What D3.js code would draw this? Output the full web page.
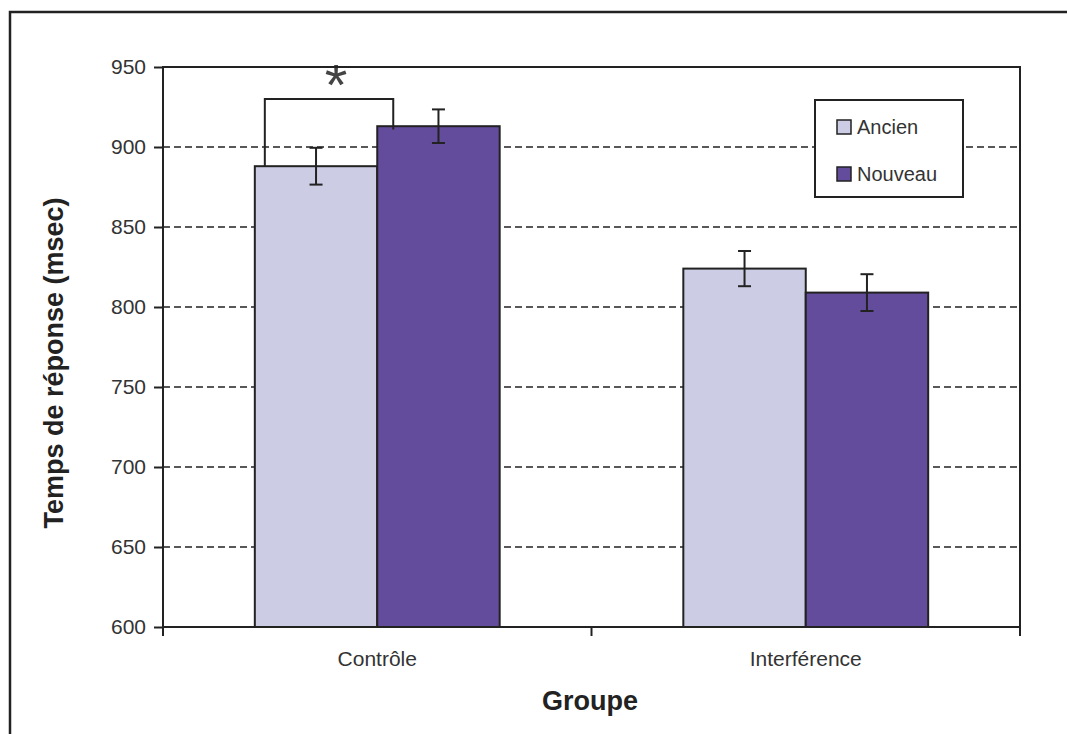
<!DOCTYPE html>
<html>
<head>
<meta charset="utf-8">
<script src="https://cdn.jsdelivr.net/npm/d3@7"></script>
<style>
  html, body { margin: 0; padding: 0; background: #fff; }
  svg { display: block; font-family: "Liberation Sans", Arial, sans-serif; }
</style>
</head>
<body>
<svg id="chart" width="1067" height="734"></svg>
<script>
// Response times by group and item type
const groups = ["Contrôle", "Interférence"];
const series = ["Ancien", "Nouveau"];
const ancienMeans = [888, 824];
const nouveauMeans = [913, 809];
const ancienErrors = [11.5, 11];
const nouveauErrors = [10.5, 11.5];
const yTicks = [600, 650, 700, 750, 800, 850, 900, 950];
const seriesColors = ["#cccce4", "#634c9b"];
// significance bracket over Contrôle (Ancien vs Nouveau)
const bracketLevel = 930;

const rows = groups.map((g, i) => ({
  group: g,
  values: [
    { key: series[0], mean: ancienMeans[i], err: ancienErrors[i] },
    { key: series[1], mean: nouveauMeans[i], err: nouveauErrors[i] }
  ]
}));

const svg = d3.select("#chart");
const ink = "#222";
const plot = { left: 163, right: 1020, top: 67, bottom: 627 };

const y = d3.scaleLinear().domain([600, 950]).range([plot.bottom, plot.top]);
const x0 = d3.scaleBand().domain(groups).range([plot.left, plot.right]).paddingInner(0).paddingOuter(0);
const x1 = d3.scaleBand().domain(series).range([0, x0.bandwidth()]).paddingInner(0).paddingOuter(0.75);
const color = d3.scaleOrdinal().domain(series).range(seriesColors);

// page frame
svg.append("path")
  .attr("d", "M10,745 V12 H1075")
  .attr("fill", "none").attr("stroke", ink).attr("stroke-width", 2.5);

// dashed horizontal gridlines
svg.append("g").selectAll("line")
  .data(yTicks.filter(t => t > 600 && t < 950))
  .join("line")
  .attr("x1", plot.left).attr("x2", plot.right)
  .attr("y1", d => y(d)).attr("y2", d => y(d))
  .attr("stroke", ink).attr("stroke-width", 1.6)
  .attr("stroke-dasharray", "7,4");

// bars
const gGroups = svg.append("g").selectAll("g")
  .data(rows).join("g")
  .attr("transform", d => `translate(${x0(d.group)},0)`);

gGroups.selectAll("rect")
  .data(d => d.values).join("rect")
  .attr("x", d => x1(d.key))
  .attr("y", d => y(d.mean))
  .attr("width", x1.bandwidth())
  .attr("height", d => y(600) - y(d.mean))
  .attr("fill", d => color(d.key))
  .attr("stroke", ink).attr("stroke-width", 2);

// error bars
const capHalf = 6.5;
const eb = gGroups.selectAll("g.err")
  .data(d => d.values).join("g").attr("class", "err")
  .attr("stroke", ink).attr("stroke-width", 2);
eb.append("line")
  .attr("x1", d => x1(d.key) + x1.bandwidth() / 2)
  .attr("x2", d => x1(d.key) + x1.bandwidth() / 2)
  .attr("y1", d => y(d.mean + d.err))
  .attr("y2", d => y(d.mean - d.err));
eb.append("line")
  .attr("x1", d => x1(d.key) + x1.bandwidth() / 2 - capHalf)
  .attr("x2", d => x1(d.key) + x1.bandwidth() / 2 + capHalf)
  .attr("y1", d => y(d.mean + d.err)).attr("y2", d => y(d.mean + d.err));
eb.append("line")
  .attr("x1", d => x1(d.key) + x1.bandwidth() / 2 - capHalf)
  .attr("x2", d => x1(d.key) + x1.bandwidth() / 2 + capHalf)
  .attr("y1", d => y(d.mean - d.err)).attr("y2", d => y(d.mean - d.err));

// significance bracket with asterisk
{
  const gx = x0(groups[0]);
  const bx1 = gx + x1(series[0]) + 10;
  const bx2 = gx + x1(series[1]) + 16;
  svg.append("path")
    .attr("d", `M${bx1},${y(ancienMeans[0])} V${y(bracketLevel)} H${bx2} V${y(nouveauMeans[0] - 2)}`)
    .attr("fill", "none").attr("stroke", ink).attr("stroke-width", 2);
  svg.append("text")
    .attr("x", (bx1 + bx2) / 2 + 7)
    .attr("y", y(bracketLevel) + 6)
    .attr("text-anchor", "middle")
    .attr("font-size", 58)
    .attr("fill", "#444")
    .text("*");
}

// plot border
svg.append("rect")
  .attr("x", plot.left).attr("y", plot.top)
  .attr("width", plot.right - plot.left).attr("height", plot.bottom - plot.top)
  .attr("fill", "none").attr("stroke", ink).attr("stroke-width", 2);

// y axis
const yAxis = svg.append("g")
  .attr("transform", `translate(${plot.left},0)`)
  .call(d3.axisLeft(y).tickValues(yTicks).tickSize(9).tickPadding(8).tickFormat(d3.format("d")));
yAxis.select(".domain").remove();
yAxis.selectAll(".tick line").attr("stroke", ink).attr("stroke-width", 2);
yAxis.selectAll(".tick text")
  .attr("fill", "#333").attr("font-size", 21)
  .attr("font-family", "'Liberation Sans', Arial, sans-serif");

// x axis: ticks at group boundaries, labels at group centres
const boundaries = [plot.left, x0(groups[1]), plot.right];
svg.append("g").selectAll("line")
  .data(boundaries).join("line")
  .attr("x1", d => d).attr("x2", d => d)
  .attr("y1", plot.bottom).attr("y2", plot.bottom + 9)
  .attr("stroke", ink).attr("stroke-width", 2);
svg.append("g").selectAll("text")
  .data(groups).join("text")
  .attr("x", d => x0(d) + x0.bandwidth() / 2)
  .attr("y", plot.bottom + 39)
  .attr("text-anchor", "middle")
  .attr("font-size", 21).attr("fill", "#333")
  .text(d => d);

// axis titles
svg.append("text")
  .attr("x", 590).attr("y", 710)
  .attr("text-anchor", "middle")
  .attr("font-size", 27).attr("font-weight", "bold").attr("fill", ink)
  .text("Groupe");
svg.append("text")
  .attr("transform", "translate(63,363) rotate(-90)")
  .attr("text-anchor", "middle")
  .attr("font-size", 27).attr("font-weight", "bold").attr("fill", ink)
  .text("Temps de réponse (msec)");

// legend
const legend = svg.append("g").attr("transform", "translate(815,100)");
legend.append("rect")
  .attr("width", 148).attr("height", 97)
  .attr("fill", "#fff").attr("stroke", ink).attr("stroke-width", 2);
const li = legend.selectAll("g.item")
  .data(series).join("g").attr("class", "item")
  .attr("transform", (d, i) => `translate(22,${20 + i * 47})`);
li.append("rect")
  .attr("width", 14).attr("height", 14)
  .attr("fill", d => color(d)).attr("stroke", ink).attr("stroke-width", 1.5);
li.append("text")
  .attr("x", 20).attr("y", 14)
  .attr("font-size", 20).attr("fill", "#333")
  .text(d => d);
</script>
</body>
</html>
